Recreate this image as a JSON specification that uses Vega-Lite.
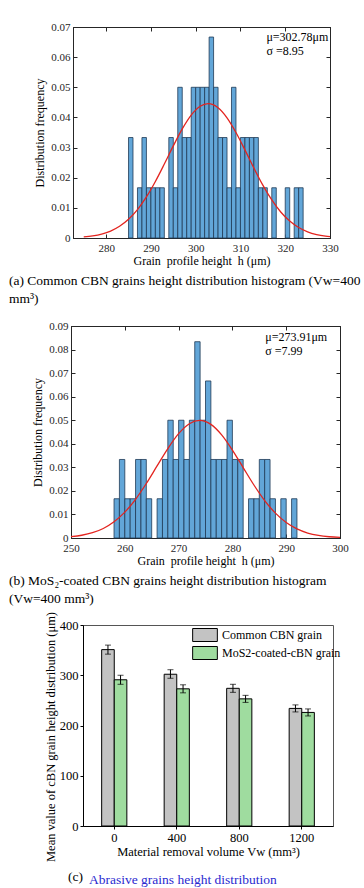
{
  "$schema": "https://vega.github.io/schema/vega-lite/v6.json",
  "padding": {"left": 7, "top": 20, "right": 0, "bottom": 0},
  "background": "white",
  "columns": 1,
  "spacing": 4,
  "align": "none",
  "title": {"text": "(c)", "orient": "bottom", "anchor": "start", "frame": "group", "dx": 61, "offset": -17, "fontSize": 13.5, "color": "#000"},
  "resolve": {"scale": {"color": "independent"}, "legend": {"color": "independent"}},
  "datasets": {
    "histA": [
      {"x0": 285, "x1": 286, "f": 0.033333}, {"x0": 287, "x1": 288, "f": 0.016667},
      {"x0": 288, "x1": 289, "f": 0.033333}, {"x0": 289, "x1": 290, "f": 0.016667},
      {"x0": 290, "x1": 291, "f": 0.016667}, {"x0": 291, "x1": 292, "f": 0.016667},
      {"x0": 292, "x1": 293, "f": 0.016667}, {"x0": 294, "x1": 295, "f": 0.033333},
      {"x0": 295, "x1": 296, "f": 0.016667}, {"x0": 296, "x1": 297, "f": 0.05},
      {"x0": 297, "x1": 298, "f": 0.033333}, {"x0": 298, "x1": 299, "f": 0.033333},
      {"x0": 299, "x1": 300, "f": 0.05}, {"x0": 300, "x1": 301, "f": 0.05},
      {"x0": 301, "x1": 302, "f": 0.05}, {"x0": 302, "x1": 303, "f": 0.05},
      {"x0": 303, "x1": 304, "f": 0.066667}, {"x0": 304, "x1": 305, "f": 0.05},
      {"x0": 305, "x1": 306, "f": 0.033333}, {"x0": 306, "x1": 307, "f": 0.033333},
      {"x0": 307, "x1": 308, "f": 0.016667}, {"x0": 308, "x1": 309, "f": 0.05},
      {"x0": 309, "x1": 310, "f": 0.016667}, {"x0": 310, "x1": 311, "f": 0.033333},
      {"x0": 311, "x1": 312, "f": 0.033333}, {"x0": 312, "x1": 313, "f": 0.033333},
      {"x0": 313, "x1": 314, "f": 0.033333}, {"x0": 314, "x1": 315, "f": 0.016667},
      {"x0": 315, "x1": 316, "f": 0.016667}, {"x0": 317, "x1": 318, "f": 0.016667},
      {"x0": 320, "x1": 321, "f": 0.016667}, {"x0": 322, "x1": 323, "f": 0.016667},
      {"x0": 323, "x1": 324, "f": 0.016667}
    ],
    "curveA": [
      {"h": 275, "p": 0.000361}, {"h": 277, "p": 0.000704}, {"h": 279, "p": 0.001306},
      {"h": 281, "p": 0.002307}, {"h": 283, "p": 0.003877}, {"h": 285, "p": 0.006196},
      {"h": 287, "p": 0.009424}, {"h": 289, "p": 0.013625}, {"h": 291, "p": 0.018742},
      {"h": 293, "p": 0.024536}, {"h": 295, "p": 0.030549}, {"h": 297, "p": 0.036182},
      {"h": 299, "p": 0.040768}, {"h": 301, "p": 0.043697}, {"h": 302.78, "p": 0.04457},
      {"h": 305, "p": 0.04322}, {"h": 307, "p": 0.039881}, {"h": 309, "p": 0.035005},
      {"h": 311, "p": 0.029233}, {"h": 313, "p": 0.023221}, {"h": 315, "p": 0.017547},
      {"h": 317, "p": 0.012613}, {"h": 319, "p": 0.008624}, {"h": 321, "p": 0.005611},
      {"h": 323, "p": 0.003473}, {"h": 325, "p": 0.002045}, {"h": 327, "p": 0.001145},
      {"h": 329, "p": 0.00061}, {"h": 330, "p": 0.000437}
    ],
    "histB": [
      {"x0": 258, "x1": 259, "f": 0.016667}, {"x0": 259, "x1": 260, "f": 0.033333},
      {"x0": 260, "x1": 261, "f": 0.016667}, {"x0": 261, "x1": 262, "f": 0.016667},
      {"x0": 262, "x1": 263, "f": 0.033333}, {"x0": 263, "x1": 264, "f": 0.033333},
      {"x0": 264, "x1": 265, "f": 0.016667}, {"x0": 266, "x1": 267, "f": 0.016667},
      {"x0": 267, "x1": 268, "f": 0.033333}, {"x0": 268, "x1": 269, "f": 0.05},
      {"x0": 269, "x1": 270, "f": 0.033333}, {"x0": 270, "x1": 271, "f": 0.05},
      {"x0": 271, "x1": 272, "f": 0.033333}, {"x0": 272, "x1": 273, "f": 0.05},
      {"x0": 273, "x1": 274, "f": 0.083333}, {"x0": 274, "x1": 275, "f": 0.05},
      {"x0": 275, "x1": 276, "f": 0.066667}, {"x0": 276, "x1": 277, "f": 0.033333},
      {"x0": 277, "x1": 278, "f": 0.033333}, {"x0": 278, "x1": 279, "f": 0.033333},
      {"x0": 279, "x1": 280, "f": 0.05}, {"x0": 280, "x1": 281, "f": 0.033333},
      {"x0": 281, "x1": 282, "f": 0.033333}, {"x0": 283, "x1": 284, "f": 0.016667},
      {"x0": 284, "x1": 285, "f": 0.016667}, {"x0": 285, "x1": 286, "f": 0.033333},
      {"x0": 286, "x1": 287, "f": 0.033333}, {"x0": 287, "x1": 288, "f": 0.016667},
      {"x0": 289, "x1": 290, "f": 0.016667}, {"x0": 291, "x1": 292, "f": 0.016667}
    ],
    "curveB": [
      {"h": 250, "p": 0.000567}, {"h": 252, "p": 0.001163}, {"h": 254, "p": 0.002239},
      {"h": 256, "p": 0.004048}, {"h": 258, "p": 0.006875}, {"h": 260, "p": 0.01097},
      {"h": 262, "p": 0.016437}, {"h": 264, "p": 0.023138}, {"h": 266, "p": 0.030587},
      {"h": 268, "p": 0.037977}, {"h": 270, "p": 0.044298}, {"h": 272, "p": 0.048522},
      {"h": 273.91, "p": 0.04993}, {"h": 276, "p": 0.048252}, {"h": 278, "p": 0.043799},
      {"h": 280, "p": 0.037343}, {"h": 282, "p": 0.029903}, {"h": 284, "p": 0.022494},
      {"h": 286, "p": 0.015893}, {"h": 288, "p": 0.010545}, {"h": 290, "p": 0.006571},
      {"h": 292, "p": 0.003848}, {"h": 294, "p": 0.002117}, {"h": 296, "p": 0.001093},
      {"h": 298, "p": 0.00053}, {"h": 300, "p": 0.000242}
    ],
    "bars": [
      {"vol": "0", "series": "Common CBN grain", "m": 351, "lo": 342, "hi": 360},
      {"vol": "0", "series": "MoS2-coated-cBN grain", "m": 291, "lo": 282, "hi": 300},
      {"vol": "400", "series": "Common CBN grain", "m": 302, "lo": 294, "hi": 311},
      {"vol": "400", "series": "MoS2-coated-cBN grain", "m": 273, "lo": 265, "hi": 281},
      {"vol": "800", "series": "Common CBN grain", "m": 274, "lo": 266, "hi": 282},
      {"vol": "800", "series": "MoS2-coated-cBN grain", "m": 253, "lo": 246, "hi": 260},
      {"vol": "1200", "series": "Common CBN grain", "m": 234, "lo": 227, "hi": 241},
      {"vol": "1200", "series": "MoS2-coated-cBN grain", "m": 226, "lo": 219, "hi": 233}
    ]
  },
  "concat": [
    {
      "hconcat": [
        {"width": 1, "height": 10, "data": {"values": []}, "mark": "text", "view": {"stroke": null}},
        {
          "width": 257,
          "height": 211,
          "title": {"text": ["(a)  Common CBN grains height distribution histogram (Vw=400", "mm³)"], "orient": "bottom", "anchor": "start", "frame": "group", "dx": -64, "offset": 8, "fontSize": 13.5, "lineHeight": 18, "color": "#000"},
          "layer": [
            {
              "data": {"name": "histA"},
              "mark": {"type": "rect", "fill": "#62a6d8", "stroke": "#203a55", "strokeWidth": 0.8},
              "encoding": {
                "x": {"field": "x0", "type": "quantitative", "scale": {"domain": [272.6, 330], "nice": false, "zero": false},
                      "axis": {"orient": "bottom", "values": [280, 290, 300, 310, 320, 330], "title": "Grain\u00a0 profile height\u00a0 h (μm)", "titleFontSize": 12, "labelFontSize": 11, "tickSize": -4, "labelPadding": 8, "titlePadding": 2, "labelFlush": false}},
                "x2": {"field": "x1"},
                "y": {"field": "f", "type": "quantitative", "scale": {"domain": [0, 0.07], "nice": false},
                      "axis": {"orient": "left", "values": [0, 0.01, 0.02, 0.03, 0.04, 0.05, 0.06, 0.07], "format": ".2~f", "title": "Distribution frequency", "titleFontSize": 12, "labelFontSize": 11, "tickSize": -4, "labelPadding": 7, "titlePadding": 4}},
                "y2": {"datum": 0}
              }
            },
            {
              "data": {"name": "curveA"},
              "mark": {"type": "line", "color": "#e3241f", "strokeWidth": 1.3, "interpolate": "monotone"},
              "encoding": {
                "x": {"field": "h", "type": "quantitative", "scale": {"domain": [272.6, 330], "nice": false, "zero": false},
                      "axis": {"orient": "top", "values": [280, 290, 300, 310, 320, 330], "labels": false, "title": null, "tickSize": -4}},
                "y": {"field": "p", "type": "quantitative", "scale": {"domain": [0, 0.07], "nice": false},
                      "axis": {"orient": "right", "values": [0, 0.01, 0.02, 0.03, 0.04, 0.05, 0.06, 0.07], "labels": false, "title": null, "tickSize": -4}}
              }
            },
            {
              "data": {"values": [{}]},
              "mark": {"type": "text", "align": "left", "baseline": "top", "fontSize": 12, "lineBreak": "\n", "lineHeight": 14.5, "color": "#000"},
              "encoding": {
                "x": {"datum": 315.8, "type": "quantitative", "axis": null},
                "y": {"datum": 0.0685, "type": "quantitative", "axis": null},
                "text": {"value": "μ=302.78μm\nσ =8.95"}
              }
            }
          ],
          "resolve": {"axis": {"x": "independent", "y": "independent"}}
        }
      ],
      "spacing": 0
    },
    {
      "hconcat": [
        {"width": 1, "height": 10, "data": {"values": []}, "mark": "text", "view": {"stroke": null}},
        {
          "width": 269,
          "height": 212,
          "title": {"text": ["(b) MoS₂-coated CBN grains height distribution histogram", "(Vw=400 mm³)"], "orient": "bottom", "anchor": "start", "frame": "group", "dx": -62, "offset": 8, "fontSize": 13.5, "lineHeight": 18, "color": "#000"},
          "layer": [
            {
              "data": {"name": "histB"},
              "mark": {"type": "rect", "fill": "#62a6d8", "stroke": "#203a55", "strokeWidth": 0.8},
              "encoding": {
                "x": {"field": "x0", "type": "quantitative", "scale": {"domain": [250, 300], "nice": false, "zero": false},
                      "axis": {"orient": "bottom", "values": [250, 260, 270, 280, 290, 300], "title": "Grain\u00a0 profile height\u00a0 h (μm)", "titleFontSize": 12, "labelFontSize": 11, "tickSize": -4, "labelPadding": 8, "titlePadding": 2, "labelFlush": false}},
                "x2": {"field": "x1"},
                "y": {"field": "f", "type": "quantitative", "scale": {"domain": [0, 0.09], "nice": false},
                      "axis": {"orient": "left", "values": [0, 0.01, 0.02, 0.03, 0.04, 0.05, 0.06, 0.07, 0.08, 0.09], "format": ".2~f", "title": "Distribution frequency", "titleFontSize": 12, "labelFontSize": 11, "tickSize": -4, "labelPadding": 7, "titlePadding": 4}},
                "y2": {"datum": 0}
              }
            },
            {
              "data": {"name": "curveB"},
              "mark": {"type": "line", "color": "#e3241f", "strokeWidth": 1.3, "interpolate": "monotone"},
              "encoding": {
                "x": {"field": "h", "type": "quantitative", "scale": {"domain": [250, 300], "nice": false, "zero": false},
                      "axis": {"orient": "top", "values": [250, 260, 270, 280, 290, 300], "labels": false, "title": " ", "titleFontSize": 12, "titlePadding": 2, "tickSize": -4}},
                "y": {"field": "p", "type": "quantitative", "scale": {"domain": [0, 0.09], "nice": false},
                      "axis": {"orient": "right", "values": [0, 0.01, 0.02, 0.03, 0.04, 0.05, 0.06, 0.07, 0.08, 0.09], "labels": false, "title": null, "tickSize": -4}}
              }
            },
            {
              "data": {"values": [{}]},
              "mark": {"type": "text", "align": "left", "baseline": "top", "fontSize": 12, "lineBreak": "\n", "lineHeight": 14.5, "color": "#000"},
              "encoding": {
                "x": {"datum": 286.1, "type": "quantitative", "axis": null},
                "y": {"datum": 0.0876, "type": "quantitative", "axis": null},
                "text": {"value": "μ=273.91μm\nσ =7.99"}
              }
            }
          ],
          "resolve": {"axis": {"x": "independent", "y": "independent"}}
        }
      ],
      "spacing": 0
    },
    {
      "hconcat": [
        {"width": 36, "height": 10, "data": {"values": []}, "mark": "text", "view": {"stroke": null}},
        {
          "width": 250,
          "height": 201,
          "data": {"name": "bars"},
          "view": {"stroke": "#555"},
          "title": {"text": "Abrasive grains height distribution", "orient": "bottom", "anchor": "start", "frame": "group", "dx": 6, "offset": 11, "fontSize": 13.5, "color": "#2a2ad0"},
          "encoding": {
            "x": {"field": "vol", "type": "ordinal", "scale": {"domain": ["0", "400", "800", "1200"], "paddingInner": 0.597, "paddingOuter": 0.2985},
                  "axis": {"labelAngle": 0, "title": "Material removal volume Vw (mm³)", "tickSize": 3, "labelPadding": 2, "titlePadding": 2, "labelFontSize": 12.5, "titleFontSize": 12.5, "domainColor": "#000", "tickColor": "#000", "labelColor": "#000"}},
            "xOffset": {"field": "series", "type": "nominal"}
          },
          "layer": [
            {
              "mark": {"type": "bar", "stroke": "#000", "strokeWidth": 1},
              "encoding": {
                "y": {"field": "m", "type": "quantitative", "title": "Mean value of cBN grain height distribution (μm)", "scale": {"domain": [0, 400], "nice": false},
                      "axis": {"values": [0, 50, 100, 150, 200, 250, 300, 350, 400], "tickSize": 3, "labelPadding": 2, "titlePadding": 2, "titleY": 111.5, "labelFontSize": 12.5, "titleFontSize": 12.5, "domainColor": "#000", "tickColor": "#000", "labelColor": "#000"}},
                "color": {"field": "series", "type": "nominal", "scale": {"domain": ["Common CBN grain", "MoS2-coated-cBN grain"], "range": ["#c3c3c3", "#9fdc9f"]},
                          "legend": {"title": null, "orient": "none", "legendX": 115, "legendY": 3, "padding": 0, "symbolType": "M-1.9,-1H1.9V1H-1.9Z", "symbolSize": 169, "symbolStrokeColor": "#000", "symbolStrokeWidth": 1, "symbolOpacity": 1, "labelFontSize": 12, "labelColor": "#000", "labelOffset": 10, "rowPadding": 0}}
              }
            },
            {
              "mark": {"type": "rule", "color": "#000", "strokeWidth": 1},
              "encoding": {
                "y": {"field": "lo", "type": "quantitative", "title": "Mean value of cBN grain height distribution (μm)"},
                "y2": {"field": "hi"}
              }
            },
            {
              "mark": {"type": "tick", "orient": "horizontal", "color": "#000", "size": 6, "thickness": 1},
              "encoding": {"y": {"field": "lo", "type": "quantitative", "title": "Mean value of cBN grain height distribution (μm)"}}
            },
            {
              "mark": {"type": "tick", "orient": "horizontal", "color": "#000", "size": 6, "thickness": 1},
              "encoding": {"y": {"field": "hi", "type": "quantitative", "title": "Mean value of cBN grain height distribution (μm)"}}
            }
          ]
        }
      ],
      "spacing": 0,
      "resolve": {"scale": {"color": "independent"}, "legend": {"color": "independent"}}
    }
  ],
  "config": {
    "font": "Liberation Serif",
    "view": {"stroke": "#262626"},
    "axis": {"labelFont": "Liberation Serif", "titleFont": "Liberation Serif", "titleFontWeight": "normal", "grid": false, "labelColor": "#262626", "titleColor": "#000", "domainColor": "#262626", "tickColor": "#262626"},
    "title": {"font": "Liberation Serif", "fontWeight": "normal"},
    "legend": {"labelFont": "Liberation Serif"},
    "text": {"font": "Liberation Serif"}
  }
}
